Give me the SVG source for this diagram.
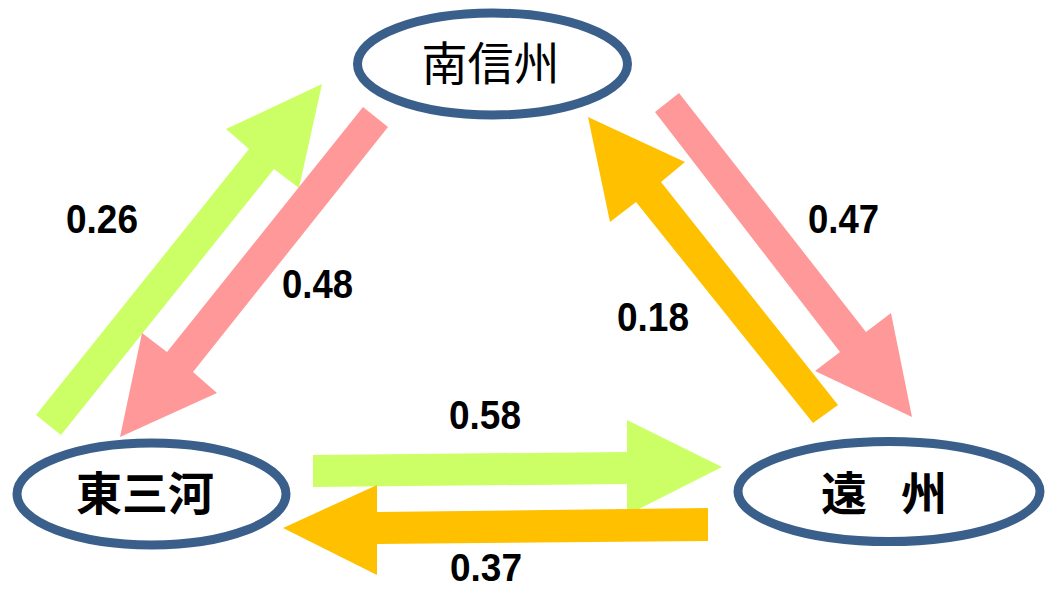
<svg xmlns="http://www.w3.org/2000/svg" width="1052" height="590" viewBox="0 0 1052 590">
<style>
.node{fill:#ffffff;stroke:#3A5F8B;stroke-width:9}
.jp{font-family:"Noto Sans CJK JP","Noto Sans CJK SC",sans-serif;font-size:46px;fill:#000}
.b{font-weight:bold}
.num{font-family:"Liberation Sans",Arial,sans-serif;font-weight:bold;font-size:40px;fill:#000}
.g{fill:#CCFF66}
.p{fill:#FF9999}
.o{fill:#FFC000}
</style>
<rect width="1052" height="590" fill="#ffffff"/>
<g id="connectors">
<polygon class="g" points="36,415 249,149 226,129 322,84 299,188 274,169 61,435"/>
<polygon class="p" points="388,127 193,372 217,393 120,437 142,333 167,352 363,107"/>
<polygon class="p" points="679,93 866,332 891,313 912,417 815,371 840,352 655,112"/>
<polygon class="o" points="813,423 636,202 610,222 588,117 685,162 661,182 838,405"/>
<polygon class="g" points="313,455 627,452 627,420 722,467 627,515 627,484 313,487"/>
<polygon class="o" points="708,508 377,512 377,485 283,528 377,575 377,544 708,541"/>
<text class="num" x="66" y="233" textLength="72" lengthAdjust="spacingAndGlyphs">0.26</text>
<text class="num" x="282" y="298" textLength="71" lengthAdjust="spacingAndGlyphs">0.48</text>
<text class="num" x="808" y="233" textLength="71" lengthAdjust="spacingAndGlyphs">0.47</text>
<text class="num" x="617" y="331" textLength="72" lengthAdjust="spacingAndGlyphs">0.18</text>
<text class="num" x="449" y="429" textLength="72" lengthAdjust="spacingAndGlyphs">0.58</text>
<text class="num" x="450" y="581" font-size="38" textLength="72" lengthAdjust="spacingAndGlyphs" style="font-size:38px">0.37</text>
</g>
<g id="node-minamishinshu">
<ellipse class="node" cx="492.5" cy="64" rx="135" ry="51"/>
<text class="jp" x="490.5" y="80" text-anchor="middle">南信州</text>
</g>
<g id="node-higashimikawa">
<ellipse class="node" cx="151.5" cy="494" rx="134.5" ry="51"/>
<text class="jp b" x="145" y="510" text-anchor="middle">東三河</text>
</g>
<g id="node-enshu">
<ellipse class="node" cx="889" cy="491.5" rx="151" ry="50"/>
<text class="jp b" x="821 867 901" y="510">遠　州</text>
</g>
</svg>
